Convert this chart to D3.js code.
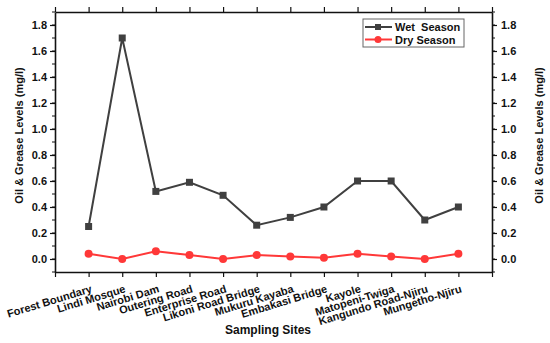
<!DOCTYPE html>
<html>
<head>
<script src="https://d3js.org/d3.v7.min.js"></script>
<style>
body { margin: 0; background: #fff; }
svg text { font-family: Arial, "Liberation Sans", sans-serif; font-weight: bold; }
</style>
</head>
<body>
<div id="chart"></div>
<script>
var sites = ["Forest Boundary", "Lindi Mosque", "Nairobi Dam", "Outering Road", "Enterprise Road",
  "Likoni Road Bridge", "Mukuru Kayaba", "Embakasi Bridge", "Kayole", "Matopeni-Twiga",
  "Kangundo Road-Njiru", "Mungetho-Njiru"];
var wetSeason = [0.25, 1.70, 0.52, 0.59, 0.49, 0.26, 0.32, 0.40, 0.60, 0.60, 0.30, 0.40];
var drySeason = [0.04, 0.00, 0.06, 0.03, 0.00, 0.03, 0.02, 0.01, 0.04, 0.02, 0.00, 0.04];
var yTicks = [0, 0.2, 0.4, 0.6, 0.8, 1.0, 1.2, 1.4, 1.6, 1.8];

var width = 550, height = 343;
var m = {left: 55, right: 58, top: 12, bottom: 71};

var svg = d3.select("#chart").append("svg")
    .attr("width", width).attr("height", height);

var x = d3.scaleLinear().domain([0, sites.length + 1]).range([m.left, width - m.right]);
var y = d3.scaleLinear().domain([-0.1, 1.9]).range([height - m.bottom, m.top]);

var axisColor = "#111";
var xIdx = d3.range(0, sites.length + 2);
var minor = d3.range(-0.1, 1.91, 0.1).map(function(d) { return +d.toFixed(2); });

// minor y ticks
function minorTicks(g, side) {
  g.selectAll("line.minor").data(minor).enter().append("line")
    .attr("x1", 0).attr("x2", side * 3)
    .attr("y1", function(d) { return y(d); }).attr("y2", function(d) { return y(d); })
    .attr("stroke", axisColor).attr("stroke-width", 1);
}

var leftAx = svg.append("g").attr("transform", "translate(" + m.left + ",0)")
  .call(d3.axisLeft(y).tickValues(yTicks).tickFormat(d3.format(".1f")).tickSize(5).tickSizeOuter(0));
minorTicks(leftAx, -1);

var rightAx = svg.append("g").attr("transform", "translate(" + (width - m.right) + ",0)")
  .call(d3.axisRight(y).tickValues(yTicks).tickFormat(d3.format(".1f")).tickSize(5).tickSizeOuter(0));
minorTicks(rightAx, 1);

var bottomAx = svg.append("g").attr("transform", "translate(0," + (height - m.bottom) + ")")
  .call(d3.axisBottom(x).tickValues(xIdx).tickFormat("").tickSize(5).tickSizeOuter(0));
var topAx = svg.append("g").attr("transform", "translate(0," + m.top + ")")
  .call(d3.axisTop(x).tickValues(xIdx).tickFormat("").tickSize(5).tickSizeOuter(0));

[leftAx, rightAx, bottomAx, topAx].forEach(function(g) {
  g.selectAll("path.domain").attr("stroke", axisColor).attr("stroke-width", 1.6);
  g.selectAll(".tick line").attr("stroke", axisColor).attr("stroke-width", 1.2);
  g.selectAll(".tick text").attr("font-size", 11).attr("fill", "#111")
    .attr("font-family", "Arial, 'Liberation Sans', sans-serif").attr("font-weight", "bold");
});
leftAx.selectAll(".tick text").attr("x", -8);
rightAx.selectAll(".tick text").attr("x", 9);

// x category labels
svg.append("g").selectAll("text").data(sites).enter().append("text")
  .attr("transform", function(d, i) {
    return "translate(" + (x(i + 1) + 4) + "," + (height - m.bottom + 20) + ") rotate(-17)";
  })
  .attr("text-anchor", "end")
  .attr("font-size", 11)
  .attr("fill", "#111")
  .text(function(d) { return d; });

// axis titles
svg.append("text").attr("x", 268).attr("y", 334).attr("text-anchor", "middle")
  .attr("font-size", 12).attr("fill", "#111").text("Sampling Sites");
svg.append("text").attr("transform", "translate(23," + y(0.95) + ") rotate(-90)")
  .attr("text-anchor", "middle").attr("font-size", 11).attr("fill", "#111")
  .text("Oil & Grease Levels (mg/l)");
svg.append("text").attr("transform", "translate(543," + y(0.95) + ") rotate(-90)")
  .attr("text-anchor", "middle").attr("font-size", 11).attr("fill", "#111")
  .text("Oil & Grease Levels (mg/l)");

var wetColor = "#404040", dryColor = "#ff3838";
var line = d3.line().x(function(d, i) { return x(i + 1); }).y(function(d) { return y(d); });

svg.append("path").datum(wetSeason).attr("d", line)
  .attr("fill", "none").attr("stroke", wetColor).attr("stroke-width", 2);
svg.append("g").selectAll("rect").data(wetSeason).enter().append("rect")
  .attr("x", function(d, i) { return x(i + 1) - 3.5; })
  .attr("y", function(d) { return y(d) - 3.5; })
  .attr("width", 7).attr("height", 7).attr("fill", wetColor);

svg.append("path").datum(drySeason).attr("d", line)
  .attr("fill", "none").attr("stroke", dryColor).attr("stroke-width", 2);
svg.append("g").selectAll("circle").data(drySeason).enter().append("circle")
  .attr("cx", function(d, i) { return x(i + 1); })
  .attr("cy", function(d) { return y(d); })
  .attr("r", 4).attr("fill", dryColor);

// legend
var legend = svg.append("g").attr("transform", "translate(363,19)");
legend.append("rect").attr("width", 101).attr("height", 28)
  .attr("fill", "#fff").attr("stroke", "#666").attr("stroke-width", 1);
var items = [["Wet  Season", wetColor, "rect"], ["Dry Season", dryColor, "circle"]];
items.forEach(function(it, i) {
  var yy = 8 + i * 12.5;
  legend.append("line").attr("x1", 2).attr("x2", 29).attr("y1", yy).attr("y2", yy)
    .attr("stroke", it[1]).attr("stroke-width", 2);
  if (it[2] === "rect") {
    legend.append("rect").attr("x", 12).attr("y", yy - 3).attr("width", 6).attr("height", 6).attr("fill", it[1]);
  } else {
    legend.append("circle").attr("cx", 15).attr("cy", yy).attr("r", 3.5).attr("fill", it[1]);
  }
  legend.append("text").attr("x", 32).attr("y", yy + 4).attr("font-size", 11)
    .attr("fill", "#111").style("white-space", "pre").text(it[0]);
});
</script>
</body>
</html>
